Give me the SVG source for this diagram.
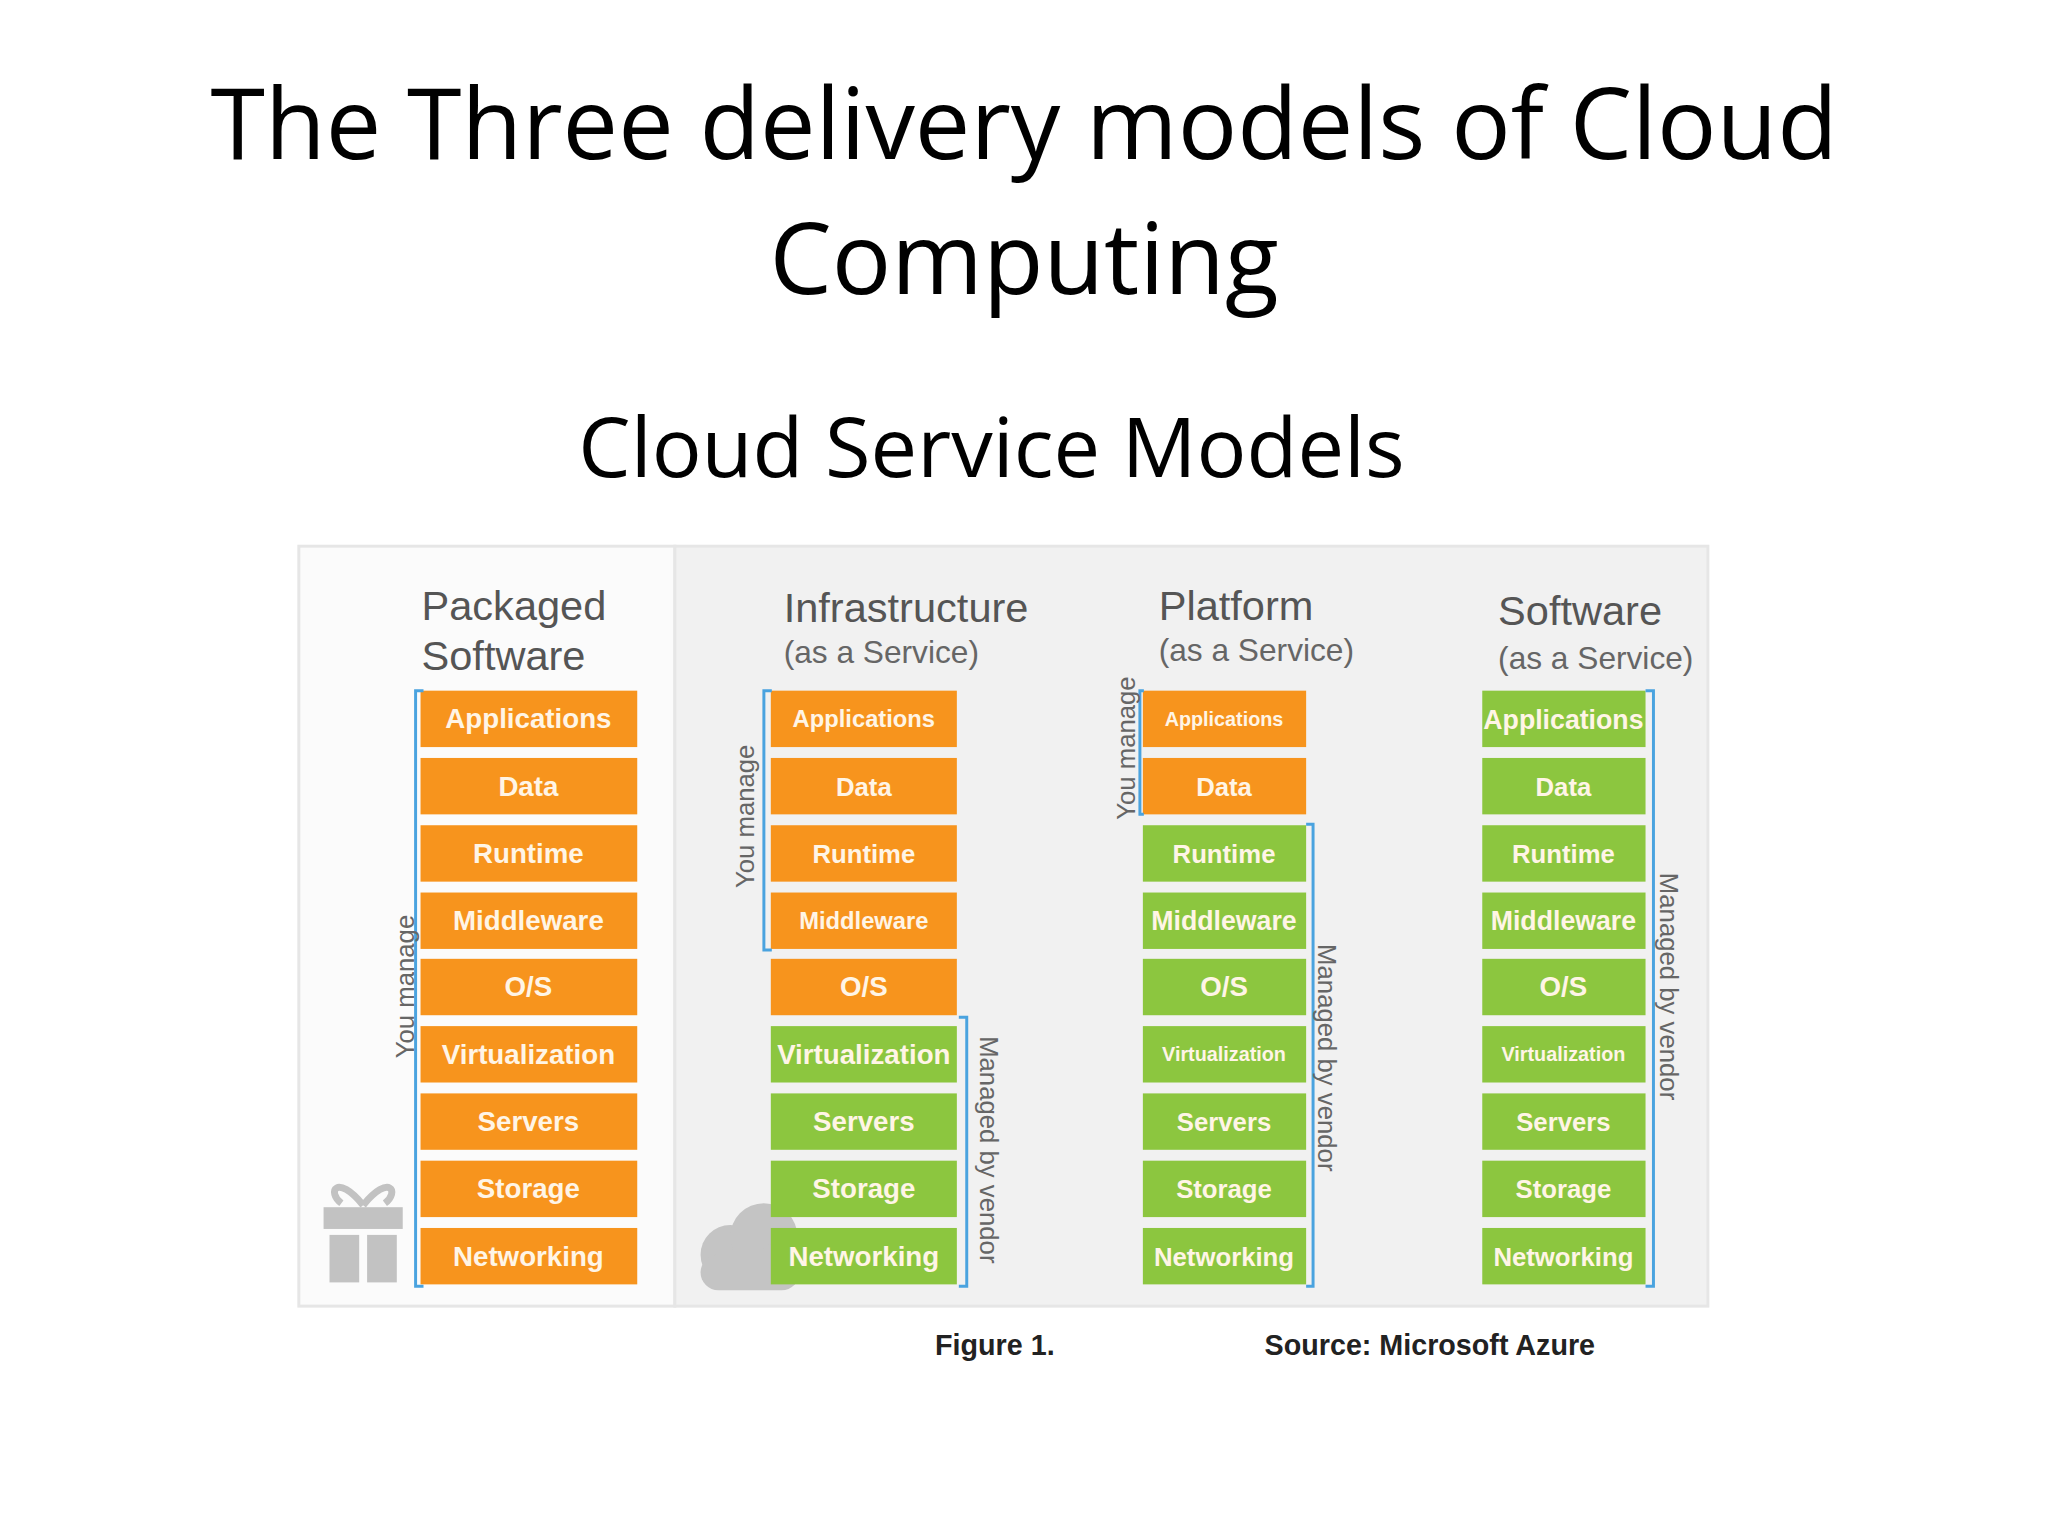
<svg xmlns="http://www.w3.org/2000/svg" width="2048" height="1536" viewBox="0 0 2048 1536">
<style>
.t{font-family:"Open Sans","Liberation Sans",sans-serif;fill:#000;text-anchor:middle}
.h{font-family:"Liberation Sans",Arial,sans-serif;fill:#555}
.s{font-family:"Liberation Sans",Arial,sans-serif;fill:#666;font-size:32px}
.o{fill:#f7941d}
.g{fill:#8cc63f}
.l{font-family:"Liberation Sans",Arial,sans-serif;fill:#fff5e6;font-size:28px;text-anchor:middle;font-weight:bold}
.br{fill:none;stroke:#4aa3df;stroke-width:3}
.v{font-family:"Liberation Sans",Arial,sans-serif;fill:#666;font-size:26px;text-anchor:middle}
.c{font-family:"Liberation Sans",Arial,sans-serif;fill:#222;font-size:29px;font-weight:bold}
</style>
<rect width="2048" height="1536" fill="#fff"/>
<g transform="scale(0.9895)">
<text class="t" x="1035" y="161" font-size="100">The Three delivery models of Cloud</text>
<text class="t" x="1035" y="297" font-size="100">Computing</text>
<text class="t" x="1002" y="482" font-size="84" fill="#222">Cloud Service Models</text>
<rect x="302" y="552" width="380" height="768" fill="#fbfbfb" stroke="#e6e6e6" stroke-width="3"/>
<rect x="682" y="552" width="1044" height="768" fill="#f1f1f1" stroke="#e6e6e6" stroke-width="3"/>
<g id="gift" fill="#c2c2c2">
<rect x="327" y="1220" width="80" height="22"/>
<rect x="333" y="1248" width="30" height="48"/><rect x="371" y="1248" width="30" height="48"/>
<path d="M367 1218 C340 1185 330 1205 345 1216 M367 1218 C394 1185 404 1205 389 1216" fill="none" stroke="#c2c2c2" stroke-width="7"/>
</g>
<g id="cloud" fill="#c4c4c4">
<circle cx="738" cy="1268" r="30"/><circle cx="772" cy="1250" r="34"/><circle cx="790" cy="1278" r="24"/>
<rect x="708" y="1268" width="100" height="36" rx="18"/>
</g>
<g id="packaged">
<text class="h" x="426" y="627" font-size="42">Packaged</text>
<text class="h" x="426" y="677" font-size="42">Software</text>
<g class="o">
<rect x="425" y="698" width="219" height="57"/><rect x="425" y="766" width="219" height="57"/><rect x="425" y="834" width="219" height="57"/><rect x="425" y="902" width="219" height="57"/><rect x="425" y="969" width="219" height="57"/><rect x="425" y="1037" width="219" height="57"/><rect x="425" y="1105" width="219" height="57"/><rect x="425" y="1173" width="219" height="57"/><rect x="425" y="1241" width="219" height="57"/>
</g>
<g class="l">
<text x="534" y="736">Applications</text><text x="534" y="804">Data</text><text x="534" y="872">Runtime</text><text x="534" y="940">Middleware</text><text x="534" y="1007">O/S</text><text x="534" y="1075">Virtualization</text><text x="534" y="1143">Servers</text><text x="534" y="1211">Storage</text><text x="534" y="1279">Networking</text>
</g>
<path class="br" d="M428 698 H420 V1300 H428"/>
<text class="v" transform="translate(418 997) rotate(-90)">You manage</text>
</g>
<g id="iaas">
<text class="h" x="792" y="629" font-size="42">Infrastructure</text>
<text class="s" x="792" y="670">(as a Service)</text>
<g class="o">
<rect x="779" y="698" width="188" height="57"/><rect x="779" y="766" width="188" height="57"/><rect x="779" y="834" width="188" height="57"/><rect x="779" y="902" width="188" height="57"/><rect x="779" y="969" width="188" height="57"/>
</g>
<g class="g">
<rect x="779" y="1037" width="188" height="57"/><rect x="779" y="1105" width="188" height="57"/><rect x="779" y="1173" width="188" height="57"/><rect x="779" y="1241" width="188" height="57"/>
</g>
<g class="l">
<text x="873" y="735" font-size="24">Applications</text><text x="873" y="804" font-size="26">Data</text><text x="873" y="872" font-size="26">Runtime</text><text x="873" y="939" font-size="24">Middleware</text><text x="873" y="1007">O/S</text><text x="873" y="1075">Virtualization</text><text x="873" y="1143">Servers</text><text x="873" y="1211">Storage</text><text x="873" y="1279">Networking</text>
</g>
<path class="br" d="M780 698 H772 V960 H780"/>
<text class="v" transform="translate(762 825) rotate(-90)">You manage</text>
<path class="br" d="M969 1028 H977 V1300 H969"/>
<text class="v" transform="translate(990 1162) rotate(90)">Managed by vendor</text>
</g>
<g id="paas">
<text class="h" x="1171" y="627" font-size="42">Platform</text>
<text class="s" x="1171" y="668">(as a Service)</text>
<g class="o">
<rect x="1155" y="698" width="165" height="57"/><rect x="1155" y="766" width="165" height="57"/>
</g>
<g class="g">
<rect x="1155" y="834" width="165" height="57"/><rect x="1155" y="902" width="165" height="57"/><rect x="1155" y="969" width="165" height="57"/><rect x="1155" y="1037" width="165" height="57"/><rect x="1155" y="1105" width="165" height="57"/><rect x="1155" y="1173" width="165" height="57"/><rect x="1155" y="1241" width="165" height="57"/>
</g>
<g class="l">
<text x="1237" y="734" font-size="20">Applications</text><text x="1237" y="804" font-size="26">Data</text><text x="1237" y="872" font-size="26">Runtime</text><text x="1237" y="940" font-size="27">Middleware</text><text x="1237" y="1007">O/S</text><text x="1237" y="1072" font-size="20">Virtualization</text><text x="1237" y="1143" font-size="26">Servers</text><text x="1237" y="1211" font-size="26">Storage</text><text x="1237" y="1279" font-size="26">Networking</text>
</g>
<path class="br" d="M1156 698 H1152 V823 H1156"/>
<text class="v" transform="translate(1147 756) rotate(-90)">You manage</text>
<path class="br" d="M1320 833 H1327 V1300 H1320"/>
<text class="v" transform="translate(1332 1069) rotate(90)">Managed by vendor</text>
</g>
<g id="saas">
<text class="h" x="1514" y="632" font-size="42">Software</text>
<text class="s" x="1514" y="676">(as a Service)</text>
<g class="g">
<rect x="1498" y="698" width="165" height="57"/><rect x="1498" y="766" width="165" height="57"/><rect x="1498" y="834" width="165" height="57"/><rect x="1498" y="902" width="165" height="57"/><rect x="1498" y="969" width="165" height="57"/><rect x="1498" y="1037" width="165" height="57"/><rect x="1498" y="1105" width="165" height="57"/><rect x="1498" y="1173" width="165" height="57"/><rect x="1498" y="1241" width="165" height="57"/>
</g>
<g class="l">
<text x="1580" y="737" font-size="27">Applications</text><text x="1580" y="804" font-size="26">Data</text><text x="1580" y="872" font-size="26">Runtime</text><text x="1580" y="940" font-size="27">Middleware</text><text x="1580" y="1007">O/S</text><text x="1580" y="1072" font-size="20">Virtualization</text><text x="1580" y="1143" font-size="26">Servers</text><text x="1580" y="1211" font-size="26">Storage</text><text x="1580" y="1279" font-size="26">Networking</text>
</g>
<path class="br" d="M1663 698 H1671 V1300 H1663"/>
<text class="v" transform="translate(1678 997) rotate(90)">Managed by vendor</text>
</g>
<text class="c" x="945" y="1369">Figure 1.</text>
<text class="c" x="1278" y="1369">Source: Microsoft Azure</text>
</g>
</svg>
